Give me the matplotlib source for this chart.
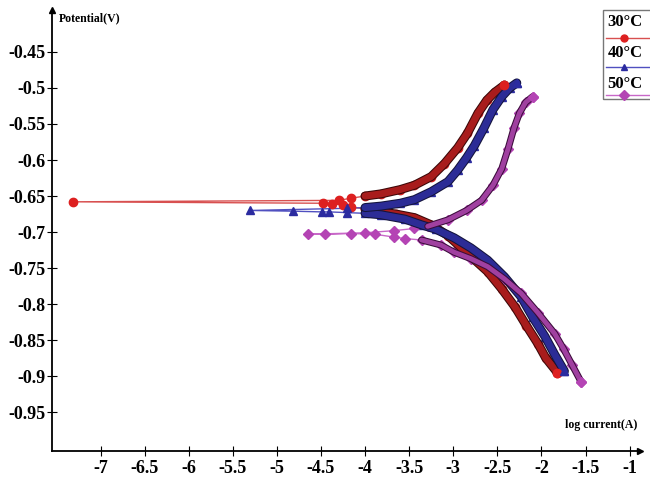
import matplotlib.pyplot as plt
import matplotlib.patheffects as pe
from matplotlib.lines import Line2D
from matplotlib.patches import Rectangle

# ==========================================
# DATA
# ==========================================
# each curve: cathodic end -> near Ecorr -> spike -> anodic end
logi_30 = [-1.82, -1.95, -2.04, -2.17, -2.30, -2.45, -2.61, -2.80, -3.06, -3.25, -3.44, -3.65,
           -3.82, -4.00, -4.16, -4.25, -4.37, -4.48, -7.31, -4.30, -4.16, -4.00, -3.82, -3.60,
           -3.44, -3.25, -3.10, -2.95, -2.84, -2.72, -2.62, -2.53, -2.42]
pot_30 = [-0.895, -0.875, -0.855, -0.830, -0.804, -0.779, -0.755, -0.734, -0.705, -0.690, -0.680, -0.675,
          -0.672, -0.668, -0.665, -0.662, -0.661, -0.660, -0.658, -0.656, -0.653, -0.650, -0.647, -0.641,
          -0.635, -0.623, -0.605, -0.583, -0.563, -0.535, -0.517, -0.506, -0.496]

logi_40 = [-1.74, -1.85, -1.96, -2.10, -2.23, -2.42, -2.61, -2.80, -2.99, -3.20, -3.36, -3.55,
           -3.82, -4.00, -4.20, -4.41, -4.49, -4.82, -5.30, -4.20, -4.00, -3.82, -3.60, -3.44,
           -3.25, -3.06, -2.95, -2.85, -2.76, -2.65, -2.55, -2.45, -2.36, -2.28]
pot_40 = [-0.893, -0.870, -0.845, -0.818, -0.790, -0.762, -0.739, -0.722, -0.708, -0.696, -0.690, -0.682,
          -0.676, -0.674, -0.673, -0.672, -0.672, -0.671, -0.670, -0.667, -0.666, -0.664, -0.660, -0.655,
          -0.644, -0.630, -0.614, -0.597, -0.580, -0.555, -0.530, -0.512, -0.500, -0.493]

logi_50 = [-1.55, -1.65, -1.75, -1.85, -2.04, -2.23, -2.42, -2.61, -2.80, -2.99, -3.14, -3.36,
           -3.55, -3.67, -3.89, -4.16, -4.46, -4.65, -4.00, -3.67, -3.44, -3.29, -3.06, -2.85,
           -2.68, -2.55, -2.45, -2.38, -2.31, -2.25, -2.18, -2.10]
pot_50 = [-0.908, -0.885, -0.862, -0.841, -0.812, -0.785, -0.765, -0.748, -0.737, -0.728, -0.718, -0.711,
          -0.709, -0.707, -0.703, -0.702, -0.703, -0.703, -0.701, -0.698, -0.695, -0.692, -0.683, -0.670,
          -0.656, -0.635, -0.612, -0.585, -0.555, -0.535, -0.520, -0.512]

labels = ["30°C", "40°C", "50°C"]

x_ticks = [-7, -6.5, -6, -5.5, -5, -4.5, -4, -3.5, -3, -2.5, -2, -1.5, -1]
x_ticklabels = ["-7", "-6.5", "-6", "-5.5", "-5", "-4.5", "-4", "-3.5", "-3", "-2.5", "-2", "-1.5", "-1"]
y_ticks = [-0.45, -0.5, -0.55, -0.6, -0.65, -0.7, -0.75, -0.8, -0.85, -0.9, -0.95]
y_ticklabels = ["-0.45", "-0.5", "-0.55", "-0.6", "-0.65", "-0.7", "-0.75", "-0.8", "-0.85", "-0.9", "-0.95"]

# ==========================================
# STYLE
# ==========================================
plt.rcParams['font.family'] = ['Liberation Serif', 'DejaVu Serif']
plt.rcParams['font.weight'] = 'bold'

series = [
    # x, y, marker, marker colour, band colour, band edge, band width, thin line colour, band slices
    (logi_30, pot_30, 'o', '#dd2020', '#a81c1c', '#3a0808', 5.0, '#d85050', (slice(0, 14), slice(21, None))),
    (logi_40, pot_40, '^', '#2b2ba0', '#2c2c96', '#14143c', 5.0, '#5050c0', (slice(0, 14), slice(20, None))),
    (logi_50, pot_50, 'D', '#b444b4', '#a040a0', '#3a0c3a', 3.5, '#c868c8', (slice(0, 12), slice(21, None))),
]

fig = plt.figure(figsize=(6.5, 4.83), dpi=100)
ax = fig.add_axes([0.08, 0.066, 0.905, 0.913])
ax.set_xlim(-7.55, -0.88)
ax.set_ylim(-1.004, -0.392)

for x, y, mk, mcol, col, edge, bw, thin, bands in series:
    # thin connecting line (shows the spike towards Ecorr)
    ax.plot(x, y, color=thin, lw=1.0, zorder=2)
    ms = 5 if mk == 'D' else 6
    # markers sit under the bands so only the free ones near Ecorr stand out
    ax.plot(x, y, linestyle='none', marker=mk, ms=ms, color=mcol, mec=mcol, zorder=2.5)
    # dense marker bands of the Tafel branches
    for sl in bands:
        ax.plot(x[sl], y[sl], color=col, lw=bw, solid_capstyle='round', zorder=3,
                path_effects=[pe.Stroke(linewidth=bw + 1.5, foreground=edge), pe.Normal()])
    # end points of the sweep
    ax.plot([x[0], x[-1]], [y[0], y[-1]], linestyle='none', marker=mk, ms=ms,
            color=mcol, zorder=4)

# axes drawn as arrows through the plot frame
for s in ['top', 'right']:
    ax.spines[s].set_visible(False)
ax.spines['left'].set_linewidth(1.3)
ax.spines['bottom'].set_linewidth(1.3)
ax.plot(1, 0, '>k', ms=5, transform=ax.transAxes, clip_on=False)
ax.plot(0, 1, '^k', ms=5, transform=ax.transAxes, clip_on=False)

ax.set_xticks(x_ticks)
ax.set_xticklabels(x_ticklabels, fontsize=13, fontweight='bold')
ax.set_yticks(y_ticks)
ax.set_yticklabels(y_ticklabels, fontsize=13, fontweight='bold')
ax.tick_params(axis='both', direction='inout', length=7, width=0.8, pad=1)
ax.tick_params(axis='x', pad=3)

ax.text(0.012, 0.995, "Potential(V)", transform=ax.transAxes, fontsize=8.5,
        fontweight='bold', va='top', ha='left')
ax.text(0.995, 0.045, "log current(A)", transform=ax.transAxes, fontsize=8.5,
        fontweight='bold', va='bottom', ha='right')

# custom legend: label above a short line sample with marker
fig.patches.append(Rectangle((603 / 650, 1 - 99 / 483), 60 / 650, 89 / 483,
                             transform=fig.transFigure, fill=False, ec='#777777', lw=1.0))
for i, (lab, (x, y, mk, mcol, col, edge, bw, thin, bands)) in enumerate(zip(labels, series)):
    ytxt = 1 - (22 + i * 31) / 483
    yln = 1 - (38 + i * 28.5) / 483
    fig.text(625 / 650, ytxt, lab, fontsize=12, fontweight='bold', ha='center', va='center')
    fig.lines.append(Line2D([606 / 650, 650 / 650], [yln, yln], transform=fig.transFigure,
                            color=thin, lw=1.0))
    fig.lines.append(Line2D([624 / 650], [yln], transform=fig.transFigure, marker=mk,
                            ms=5, color=mcol, linestyle='none'))

plt.savefig('out.png', dpi=100)
